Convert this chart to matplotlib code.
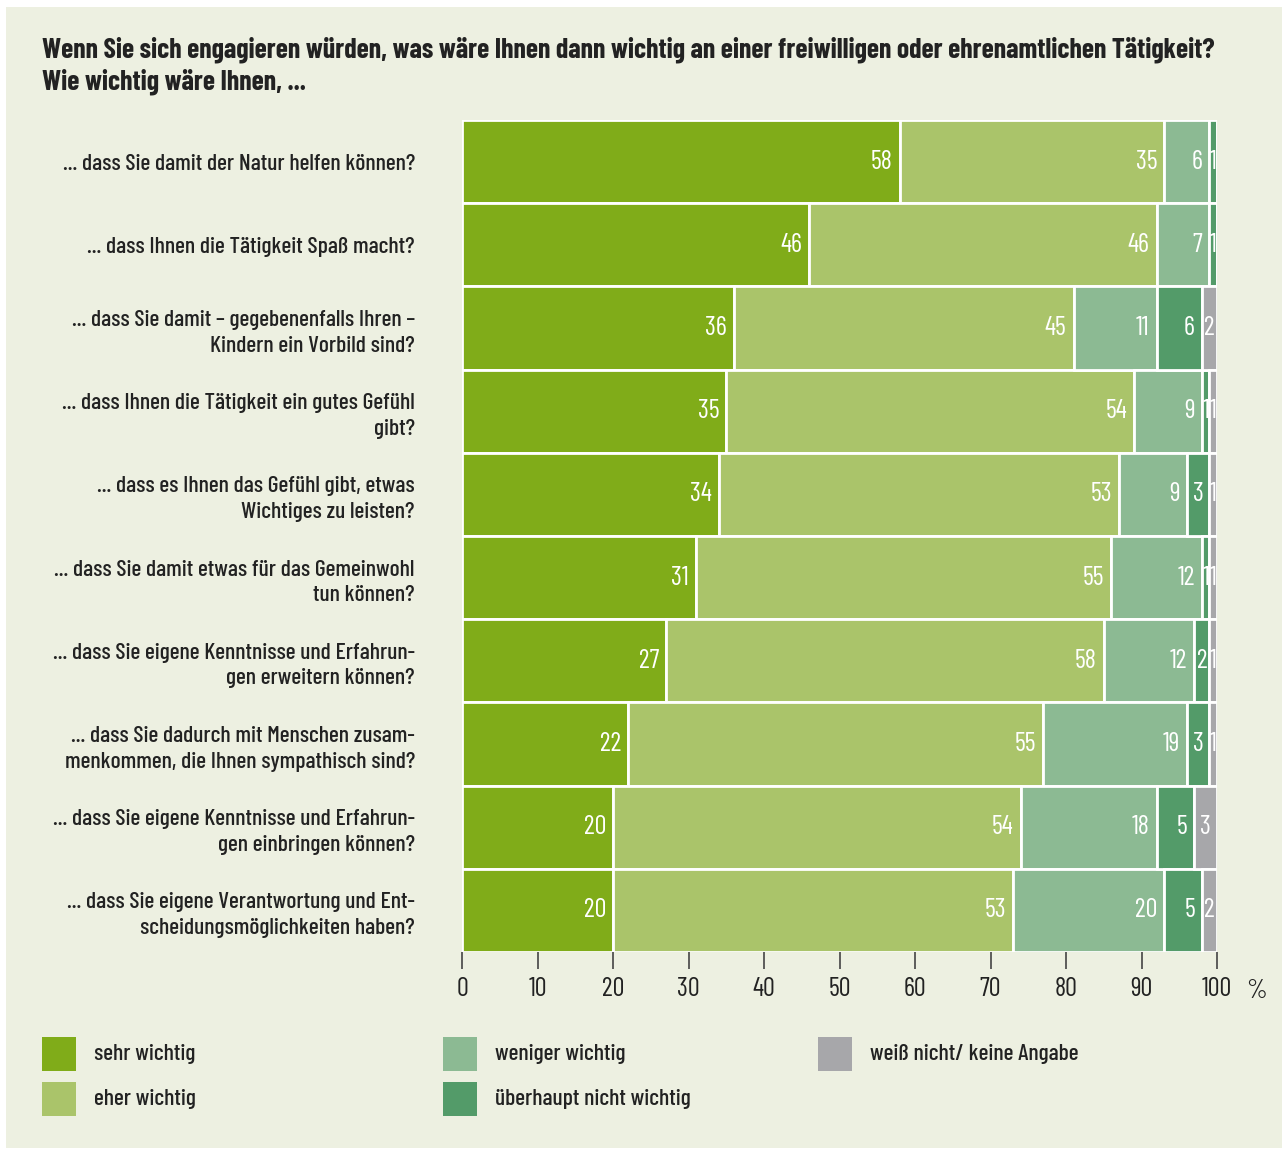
import matplotlib.pyplot as plt
from matplotlib.patches import Rectangle

plt.rcParams['font.family'] = ['Barlow Condensed', 'Barlow Semi Condensed',
                               'Sofia Sans Condensed', 'DejaVu Sans']

# answers, top to bottom
questions = [
    '... dass Sie damit der Natur helfen können?',
    '... dass Ihnen die Tätigkeit Spaß macht?',
    '... dass Sie damit – gegebenenfalls Ihren –\nKindern ein Vorbild sind?',
    '... dass Ihnen die Tätigkeit ein gutes Gefühl\ngibt?',
    '... dass es Ihnen das Gefühl gibt, etwas\nWichtiges zu leisten?',
    '... dass Sie damit etwas für das Gemeinwohl\ntun können?',
    '... dass Sie eigene Kenntnisse und Erfahrun-\ngen erweitern können?',
    '... dass Sie dadurch mit Menschen zusam-\nmenkommen, die Ihnen sympathisch sind?',
    '... dass Sie eigene Kenntnisse und Erfahrun-\ngen einbringen können?',
    '... dass Sie eigene Verantwortung und Ent-\nscheidungsmöglichkeiten haben?',
]

sehr_wichtig = [58, 46, 36, 35, 34, 31, 27, 22, 20, 20]
eher_wichtig = [35, 46, 45, 54, 53, 55, 58, 55, 54, 53]
weniger_wichtig = [6, 7, 11, 9, 9, 12, 12, 19, 18, 20]
nicht_wichtig = [1, 1, 6, 1, 3, 1, 2, 3, 5, 5]
weiss_nicht = [0, 0, 2, 1, 1, 1, 1, 1, 3, 2]

series = [sehr_wichtig, eher_wichtig, weniger_wichtig, nicht_wichtig, weiss_nicht]
names = ['sehr wichtig', 'eher wichtig', 'weniger wichtig',
         'überhaupt nicht wichtig', 'weiß nicht/ keine Angabe']
colors = ['#80ac19', '#aac46a', '#8cba93', '#539b69', '#a7a7aa']

bg = '#edf0e1'
ink = '#222222'
fig = plt.figure(figsize=(12.88, 11.49), dpi=100)
fig.patch.set_facecolor('white')
fig.add_artist(Rectangle((6 / 1288, 1 - 1148 / 1149), 1276 / 1288, 1141 / 1149,
                         transform=fig.transFigure, facecolor=bg, edgecolor='none', zorder=-10))

ax = fig.add_axes([462 / 1288, 1 - 952 / 1149, 755 / 1288, 832 / 1149])
ax.set_facecolor(bg)

y = list(range(len(questions)))
left = [0] * len(questions)
for vals, col in zip(series, colors):
    ax.barh(y, vals, left=left, height=1.0, color=col, edgecolor='white', linewidth=2)
    for i, v in enumerate(vals):
        if v == 0:
            continue
        end = left[i] + v
        if v <= 3:
            ax.text(left[i] + v / 2, i, str(v), ha='center', va='center',
                    color='white', fontsize=19)
        else:
            ax.annotate(str(v), (end, i), xytext=(-5, 0), textcoords='offset points',
                        ha='right', va='center', color='white', fontsize=19)
    left = [a + b for a, b in zip(left, vals)]

ax.set_xlim(0, 100)
ax.set_ylim(len(questions) - 0.5, -0.5)
ax.set_yticks(y)
ax.set_yticklabels(questions, fontsize=17, fontweight='medium', color=ink,
                   linespacing=1.35)
ax.tick_params(axis='y', length=0, pad=34)
ax.set_xticks(range(0, 101, 10))
ax.tick_params(axis='x', length=12, width=1.2, color='#444444', pad=6,
               labelsize=19, labelcolor=ink)
for s in ax.spines.values():
    s.set_visible(False)
ax.text(1.052, -0.033, '%', transform=ax.transAxes, fontsize=19, color=ink,
        ha='center', va='top')

fig.text(42 / 1288, 1 - 50 / 1149,
         'Wenn Sie sich engagieren würden, was wäre Ihnen dann wichtig an einer freiwilligen oder ehrenamtlichen Tätigkeit?',
         fontsize=20, fontweight='bold', color=ink, va='center')
fig.text(42 / 1288, 1 - 82 / 1149, 'Wie wichtig wäre Ihnen, ...',
         fontsize=20, fontweight='bold', color=ink, va='center')

# legend, three columns
legend_pos = [(42, 1054), (42, 1099), (443, 1054), (443, 1099), (818, 1054)]
for (lx, ly), name, col in zip(legend_pos, names, colors):
    fig.add_artist(Rectangle((lx / 1288, 1 - (ly + 17) / 1149), 34 / 1288, 34 / 1149,
                             transform=fig.transFigure, facecolor=col, edgecolor='none'))
    fig.text((lx + 52) / 1288, 1 - ly / 1149, name, fontsize=17, fontweight='medium',
             color=ink, va='center')

fig.savefig('out.png', dpi=100, facecolor=fig.get_facecolor())
